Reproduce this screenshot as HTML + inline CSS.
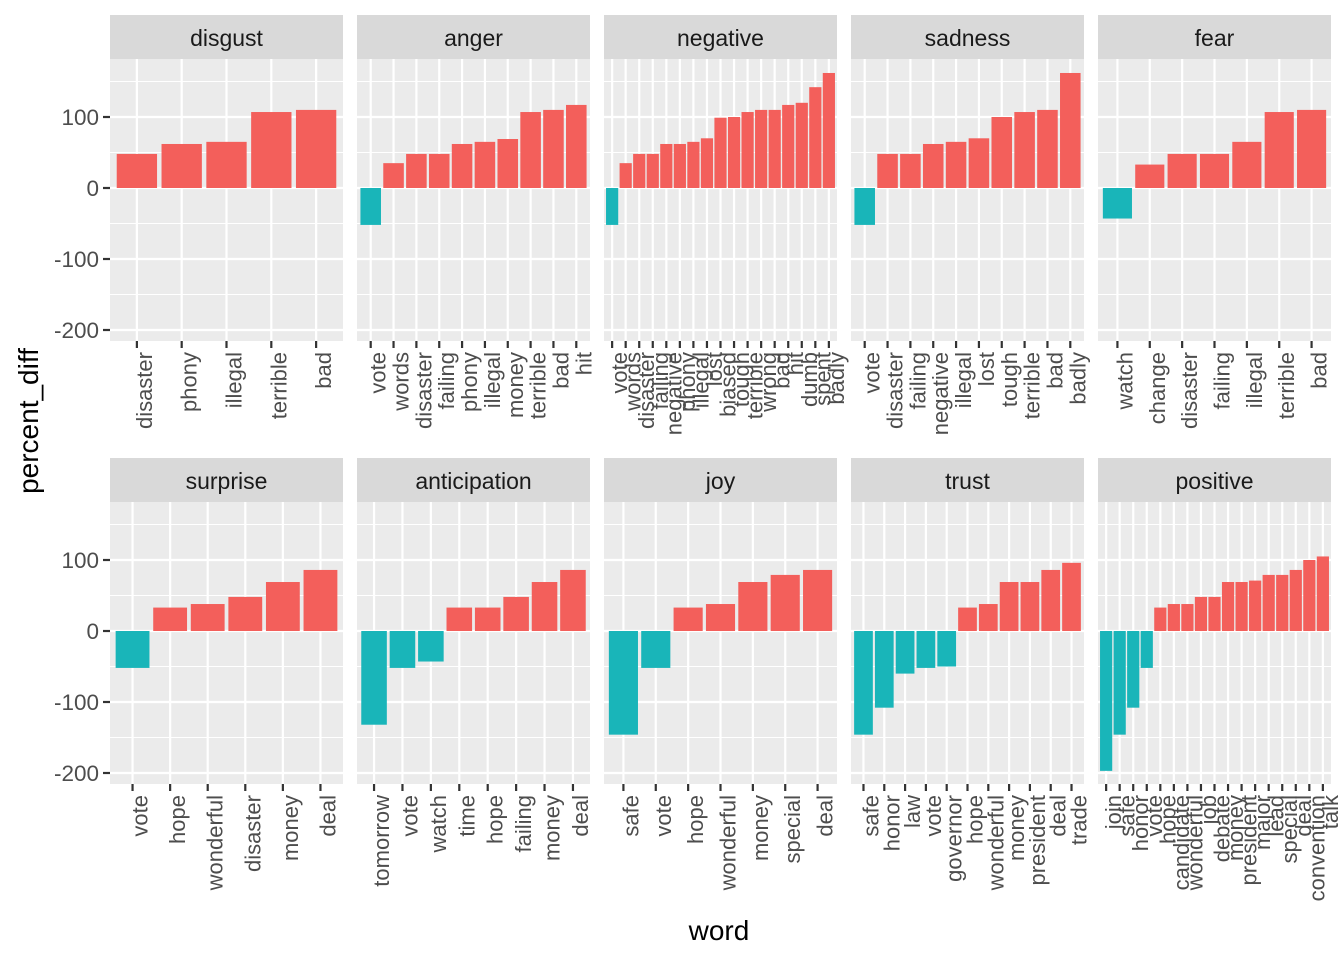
<!DOCTYPE html>
<html><head><meta charset="utf-8"><style>
html,body{margin:0;padding:0;background:#fff;}
svg{display:block;font-family:"Liberation Sans",Arial,sans-serif;}
</style></head><body>
<svg id="chart" width="1344" height="960" viewBox="0 0 1344 960"></svg>
<script>
const panelNames = ["disgust","anger","negative","sadness","fear","surprise","anticipation","joy","trust","positive"];
const wordsDisgust = ["disaster","phony","illegal","terrible","bad"];
const valsDisgust = [48,62,65,107,110];
const wordsAnger = ["vote","words","disaster","failing","phony","illegal","money","terrible","bad","hit"];
const valsAnger = [-52,35,48,48,62,65,69,107,110,117];
const wordsNegative = ["vote","words","disaster","failing","negative","phony","illegal","lost","biased","tough","terrible","wrong","bad","hit","dumb","spent","badly"];
const valsNegative = [-52,35,48,48,62,62,65,70,99,100,107,110,110,117,120,142,162];
const wordsSadness = ["vote","disaster","failing","negative","illegal","lost","tough","terrible","bad","badly"];
const valsSadness = [-52,48,48,62,65,70,100,107,110,162];
const wordsFear = ["watch","change","disaster","failing","illegal","terrible","bad"];
const valsFear = [-43,33,48,48,65,107,110];
const wordsSurprise = ["vote","hope","wonderful","disaster","money","deal"];
const valsSurprise = [-52,33,38,48,69,86];
const wordsAnticipation = ["tomorrow","vote","watch","time","hope","failing","money","deal"];
const valsAnticipation = [-132,-52,-43,33,33,48,69,86];
const wordsJoy = ["safe","vote","hope","wonderful","money","special","deal"];
const valsJoy = [-146,-52,33,38,69,79,86];
const wordsTrust = ["safe","honor","law","vote","governor","hope","wonderful","money","president","deal","trade"];
const valsTrust = [-146,-108,-60,-52,-50,33,38,69,69,86,96];
const wordsPositive = ["join","safe","honor","vote","hope","candidate","wonderful","job","debate","money","president","major","lead","special","deal","convention","talk"];
const valsPositive = [-197,-146,-108,-52,33,38,38,48,48,69,69,71,79,79,86,100,105];
const yTicks = [100,0,-100,-200];
const yTickLabels = ["100","0","-100","-200"];

const panelWords = [wordsDisgust,wordsAnger,wordsNegative,wordsSadness,wordsFear,wordsSurprise,wordsAnticipation,wordsJoy,wordsTrust,wordsPositive];
const panelVals = [valsDisgust,valsAnger,valsNegative,valsSadness,valsFear,valsSurprise,valsAnticipation,valsJoy,valsTrust,valsPositive];

const NS = "http://www.w3.org/2000/svg";
const svg = document.getElementById("chart");
function mk(tag, attrs, parent){
  const e = document.createElementNS(NS, tag);
  for (const k in attrs) e.setAttribute(k, attrs[k]);
  (parent||svg).appendChild(e);
  return e;
}
const colX = [110,357,604,851,1098];
const PW = 233;
const rows = [{strip:15, top:59, bottom:341, zero:188},{strip:458, top:502, bottom:784, zero:631}];
const pxPer = 0.71;

for (let p = 0; p < 10; p++){
  const r = rows[Math.floor(p/5)];
  const x0 = colX[p%5];
  const words = panelWords[p], vals = panelVals[p];
  const n = words.length;
  const step = PW/(n-1+1.2);
  const xPos = i => x0 + (0.6+i)*step;
  const yPos = v => r.zero - v*pxPer;
  const g = mk("g", {});
  
  
  const strip = mk("rect", {x:x0, y:r.strip, width:PW, height:r.top-r.strip, fill:"#D9D9D9"}, g);
  
  
  const st = mk("text", {x:x0+PW/2, y:r.strip+31, "text-anchor":"middle", "font-size":"23", fill:"#1A1A1A"}, g);
  st.textContent = panelNames[p];
  
  
  const bg = mk("rect", {x:x0, y:r.top, width:PW, height:r.bottom-r.top, fill:"#EBEBEB"}, g);
  
  
  for (let k = 0; k < yTicks.length; k++){
    const mv = yTicks[k] + 50;
    const yy = yPos(mv);
    if (yy > r.top && yy < r.bottom) mk("line", {x1:x0, x2:x0+PW, y1:yy, y2:yy, stroke:"#fff", "stroke-width":"1.1"}, g);
  }
  for (let k = 0; k < yTicks.length; k++){
    const yy = yPos(yTicks[k]);
    mk("line", {x1:x0, x2:x0+PW, y1:yy, y2:yy, stroke:"#fff", "stroke-width":"2.2"}, g);
  }
  for (let i = 0; i < n; i++){
    mk("line", {x1:xPos(i), x2:xPos(i), y1:r.top, y2:r.bottom, stroke:"#fff", "stroke-width":"2.2"}, g);
  }
  for (let i = 0; i < n; i++){
    const v = vals[i];
    const bw = 0.9*step;
    const y1 = yPos(Math.max(v,0)), y2 = yPos(Math.min(v,0));
    const b = mk("rect", {x:xPos(i)-bw/2, y:y1, width:bw, height:y2-y1, fill: v<0 ? "#19B5B9" : "#F35F5B"}, g);
    
    
    mk("line", {x1:xPos(i), x2:xPos(i), y1:r.bottom, y2:r.bottom+7, stroke:"#333", "stroke-width":"2.2"}, g);
    const t = mk("text", {x:0, y:0, "text-anchor":"end", "font-size":"22", fill:"#4D4D4D",
      transform:"translate(" + (xPos(i)+15) + "," + (r.bottom+11) + ") rotate(-90)"}, g);
    t.textContent = words[i];
    
    
  }
  if (p%5 === 0){
    for (let k = 0; k < yTicks.length; k++){
      const yy = yPos(yTicks[k]);
      mk("line", {x1:x0-7, x2:x0, y1:yy, y2:yy, stroke:"#333", "stroke-width":"2.2"}, g);
      const t = mk("text", {x:x0-11, y:yy+8, "text-anchor":"end", "font-size":"22.5", fill:"#4D4D4D"}, g);
      t.textContent = yTickLabels[k];
      
      
    }
  }
}
const yt = mk("text", {x:0, y:0, "text-anchor":"middle", "font-size":"28", fill:"#000", transform:"translate(38,421) rotate(-90)"});
yt.textContent = "percent_diff";


const xt = mk("text", {x:719, y:940, "text-anchor":"middle", "font-size":"28", fill:"#000"});
xt.textContent = "word";


</script>
</body></html>
